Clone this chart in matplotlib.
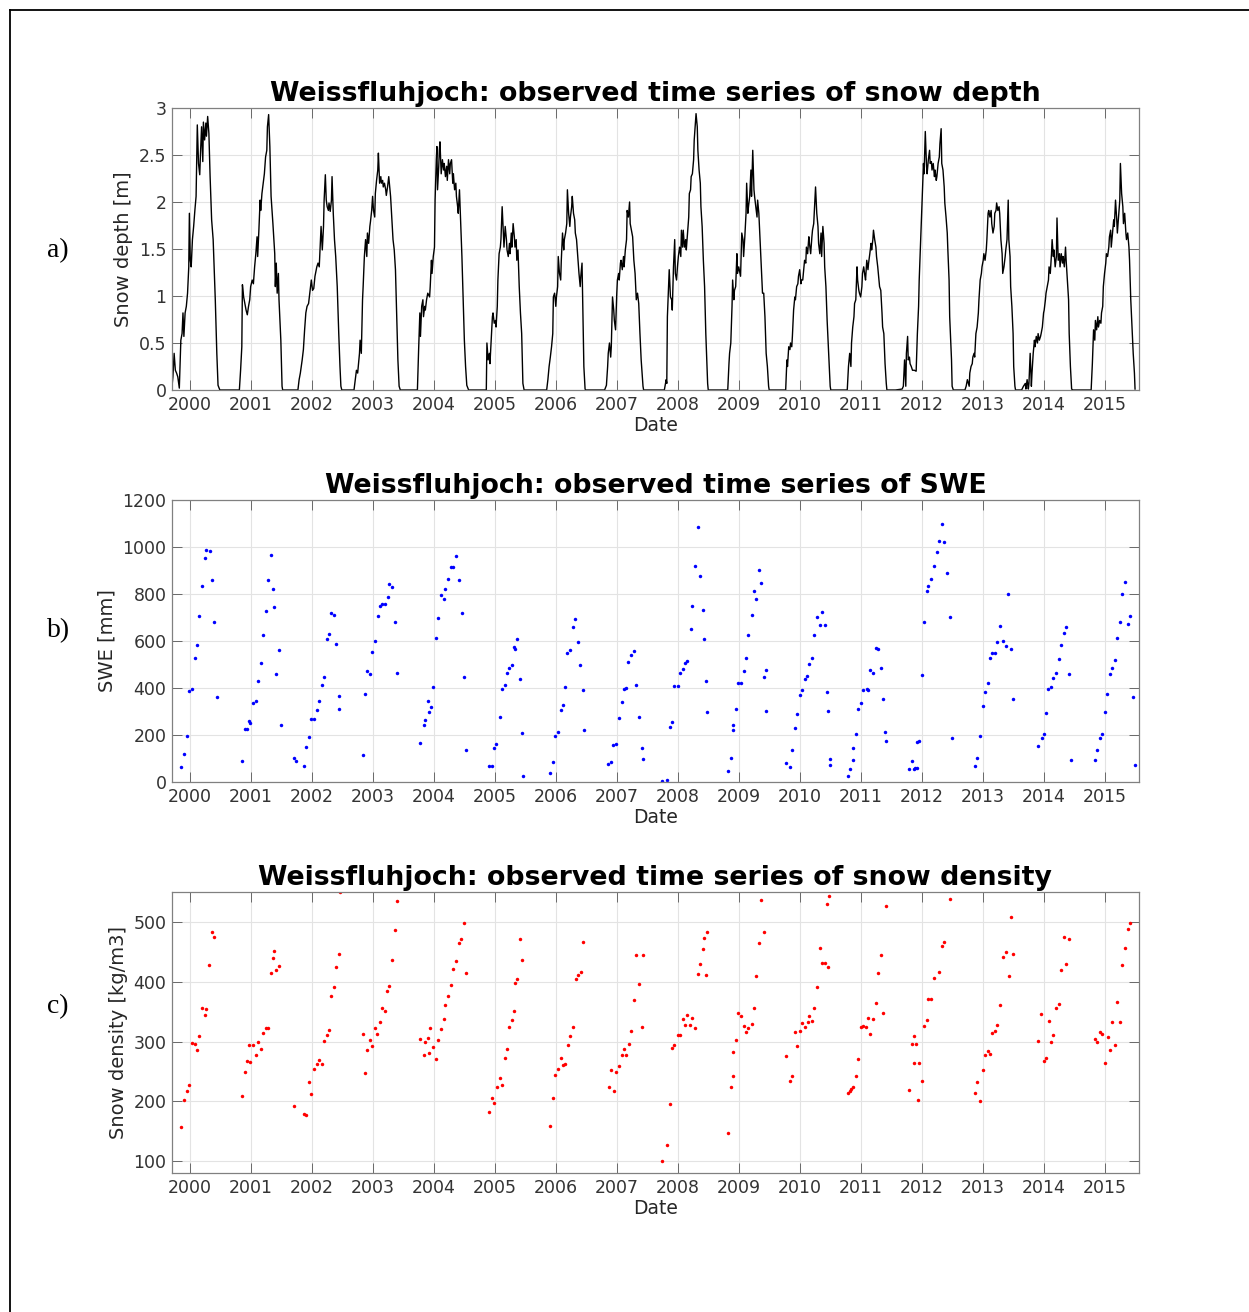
import matplotlib
matplotlib.use("Agg")
import matplotlib.pyplot as plt
from matplotlib.lines import Line2D

# ---- snow depth (decimal year, m), one line per winter ----
depth_year = [
    1999.705, 1999.72, 1999.74, 1999.76, 1999.78, 1999.80, 1999.825, 1999.85, 1999.87, 1999.885, 1999.90, 1999.92, 1999.94, 1999.96, 1999.98, 1999.99, 2000.005, 2000.02, 2000.04, 2000.06, 2000.08, 2000.10, 2000.12, 2000.14, 2000.16, 2000.17, 2000.19, 2000.21, 2000.22, 2000.24, 2000.26, 2000.27, 2000.29, 2000.31, 2000.33, 2000.355, 2000.38, 2000.39, 2000.415, 2000.44, 2000.46, 2000.49,
    2000.81, 2000.83, 2000.85, 2000.86, 2000.88, 2000.90, 2000.92, 2000.94, 2000.96, 2000.98, 2000.995, 2001.02, 2001.04, 2001.06, 2001.08, 2001.10, 2001.11, 2001.13, 2001.15, 2001.16, 2001.18, 2001.20, 2001.22, 2001.24, 2001.26, 2001.27, 2001.29, 2001.31, 2001.33, 2001.36, 2001.39, 2001.40, 2001.415, 2001.43, 2001.45, 2001.46, 2001.49, 2001.51, 2001.52,
    2001.77, 2001.79, 2001.81, 2001.84, 2001.86, 2001.88, 2001.90, 2001.92, 2001.945, 2001.97, 2001.99, 2002.01, 2002.03, 2002.05, 2002.08, 2002.10, 2002.12, 2002.14, 2002.15, 2002.17, 2002.19, 2002.20, 2002.22, 2002.235, 2002.25, 2002.27, 2002.28, 2002.30, 2002.32, 2002.33, 2002.35, 2002.37, 2002.39, 2002.415, 2002.44, 2002.46, 2002.475, 2002.49,
    2002.69, 2002.71, 2002.73, 2002.75, 2002.78, 2002.79, 2002.81, 2002.83, 2002.84, 2002.86, 2002.88, 2002.90, 2002.91, 2002.93, 2002.95, 2002.96, 2002.98, 2002.995, 2003.01, 2003.03, 2003.04, 2003.06, 2003.08, 2003.09, 2003.11, 2003.13, 2003.14, 2003.16, 2003.17, 2003.19, 2003.21, 2003.22, 2003.24, 2003.26, 2003.27, 2003.29, 2003.31, 2003.33, 2003.35, 2003.37, 2003.39, 2003.41, 2003.43, 2003.45,
    2003.73, 2003.75, 2003.77, 2003.78, 2003.80, 2003.82, 2003.83, 2003.85, 2003.86, 2003.88, 2003.90, 2003.93, 2003.94, 2003.96, 2003.97, 2003.99, 2004.01, 2004.02, 2004.04, 2004.05, 2004.06, 2004.08, 2004.09, 2004.10, 2004.12, 2004.14, 2004.16, 2004.17, 2004.19, 2004.21, 2004.22, 2004.24, 2004.26, 2004.27, 2004.29, 2004.31, 2004.32, 2004.34, 2004.36, 2004.37, 2004.39, 2004.40, 2004.42, 2004.44, 2004.46, 2004.48, 2004.50, 2004.52, 2004.54, 2004.57,
    2004.86, 2004.87, 2004.89, 2004.91, 2004.92, 2004.94, 2004.96, 2004.97, 2004.99, 2005.01, 2005.02, 2005.04, 2005.05, 2005.07, 2005.09, 2005.10, 2005.12, 2005.14, 2005.15, 2005.17, 2005.19, 2005.20, 2005.22, 2005.24, 2005.25, 2005.27, 2005.28, 2005.30, 2005.32, 2005.33, 2005.35, 2005.36, 2005.38, 2005.40, 2005.42, 2005.44, 2005.46, 2005.48,
    2005.85, 2005.87, 2005.89, 2005.91, 2005.93, 2005.95, 2005.96, 2005.98, 2006.00, 2006.01, 2006.03, 2006.04, 2006.06, 2006.08, 2006.09, 2006.11, 2006.13, 2006.14, 2006.16, 2006.18, 2006.19, 2006.21, 2006.23, 2006.24, 2006.26, 2006.27, 2006.29, 2006.31, 2006.32, 2006.34, 2006.36, 2006.38, 2006.40, 2006.41, 2006.43, 2006.44, 2006.46, 2006.48, 2006.49,
    2006.80, 2006.83, 2006.85, 2006.86, 2006.88, 2006.90, 2006.91, 2006.93, 2006.95, 2006.96, 2006.98, 2007.00, 2007.01, 2007.03, 2007.04, 2007.06, 2007.07, 2007.09, 2007.11, 2007.12, 2007.14, 2007.16, 2007.17, 2007.19, 2007.21, 2007.22, 2007.24, 2007.26, 2007.28, 2007.30, 2007.32, 2007.34, 2007.36, 2007.38, 2007.40, 2007.43, 2007.44,
    2007.78, 2007.80, 2007.81, 2007.82, 2007.83, 2007.86, 2007.88, 2007.90, 2007.91, 2007.93, 2007.95, 2007.96, 2007.98, 2007.995, 2008.01, 2008.03, 2008.05, 2008.06, 2008.08, 2008.09, 2008.11, 2008.13, 2008.14, 2008.16, 2008.18, 2008.19, 2008.21, 2008.22, 2008.24, 2008.26, 2008.27, 2008.29, 2008.30, 2008.32, 2008.33, 2008.35, 2008.37, 2008.38, 2008.40, 2008.42, 2008.44, 2008.46, 2008.49, 2008.50,
    2008.82, 2008.84, 2008.85, 2008.87, 2008.89, 2008.90, 2008.92, 2008.93, 2008.95, 2008.97, 2008.98, 2009.00, 2009.02, 2009.03, 2009.05, 2009.07, 2009.08, 2009.10, 2009.12, 2009.13, 2009.15, 2009.16, 2009.18, 2009.20, 2009.21, 2009.23, 2009.25, 2009.26, 2009.28, 2009.30, 2009.31, 2009.33, 2009.35, 2009.37, 2009.39, 2009.41, 2009.43, 2009.45, 2009.47, 2009.49, 2009.50,
    2009.77, 2009.79, 2009.80, 2009.82, 2009.84, 2009.85, 2009.87, 2009.88, 2009.90, 2009.92, 2009.93, 2009.95, 2009.97, 2009.98, 2010.00, 2010.02, 2010.03, 2010.05, 2010.07, 2010.08, 2010.10, 2010.11, 2010.13, 2010.15, 2010.16, 2010.18, 2010.20, 2010.21, 2010.23, 2010.25, 2010.26, 2010.28, 2010.30, 2010.31, 2010.33, 2010.35, 2010.36, 2010.38, 2010.40, 2010.41, 2010.43, 2010.45, 2010.48, 2010.50, 2010.51,
    2010.78, 2010.80, 2010.82, 2010.84, 2010.85, 2010.87, 2010.89, 2010.90, 2010.92, 2010.94, 2010.95, 2010.97, 2010.98, 2011.00, 2011.02, 2011.03, 2011.05, 2011.07, 2011.08, 2011.10, 2011.12, 2011.13, 2011.15, 2011.17, 2011.18, 2011.20, 2011.21, 2011.23, 2011.25, 2011.26, 2011.28, 2011.30, 2011.31, 2011.33, 2011.35, 2011.36, 2011.38, 2011.40, 2011.42, 2011.43,
    2011.57, 2011.68, 2011.70, 2011.72, 2011.74, 2011.75, 2011.77, 2011.78, 2011.80, 2011.81, 2011.83, 2011.85, 2011.88, 2011.91, 2011.93, 2011.95, 2011.96, 2011.98, 2012.00, 2012.01, 2012.03, 2012.04, 2012.06, 2012.08, 2012.09, 2012.11, 2012.13, 2012.14, 2012.16, 2012.17, 2012.19, 2012.21, 2012.22, 2012.24, 2012.25, 2012.27, 2012.29, 2012.30, 2012.32, 2012.33, 2012.35, 2012.37, 2012.38, 2012.40, 2012.42, 2012.43, 2012.45, 2012.46, 2012.49, 2012.50, 2012.52,
    2012.71, 2012.73, 2012.75, 2012.78, 2012.79, 2012.81, 2012.83, 2012.84, 2012.86, 2012.87, 2012.89, 2012.91, 2012.93, 2012.94, 2012.96, 2012.98, 2012.99, 2013.01, 2013.02, 2013.04, 2013.06, 2013.07, 2013.09, 2013.10, 2013.12, 2013.14, 2013.15, 2013.17, 2013.19, 2013.20, 2013.22, 2013.23, 2013.25, 2013.27, 2013.28, 2013.30, 2013.32, 2013.33, 2013.35, 2013.37, 2013.38, 2013.40, 2013.42, 2013.43, 2013.45, 2013.46, 2013.48, 2013.50, 2013.51, 2013.53, 2013.54,
    2013.64, 2013.67, 2013.70, 2013.71, 2013.73, 2013.75, 2013.76, 2013.78, 2013.80, 2013.81, 2013.83, 2013.85, 2013.86, 2013.88, 2013.90, 2013.91, 2013.93, 2013.95, 2013.96, 2013.98, 2014.00, 2014.01, 2014.03, 2014.04, 2014.06, 2014.08, 2014.09, 2014.11, 2014.13, 2014.14, 2014.16, 2014.17, 2014.19, 2014.21, 2014.22, 2014.24, 2014.26, 2014.27, 2014.29, 2014.31, 2014.32, 2014.34, 2014.36, 2014.37, 2014.39, 2014.41, 2014.42, 2014.44, 2014.46, 2014.48,
    2014.78, 2014.80, 2014.82, 2014.84, 2014.85, 2014.87, 2014.89, 2014.90, 2014.92, 2014.94, 2014.95, 2014.97, 2014.98, 2015.00, 2015.02, 2015.03, 2015.05, 2015.07, 2015.08, 2015.10, 2015.11, 2015.13, 2015.15, 2015.16, 2015.18, 2015.20, 2015.21, 2015.23, 2015.25, 2015.26, 2015.28, 2015.30, 2015.31, 2015.33, 2015.35, 2015.36, 2015.38, 2015.40, 2015.41, 2015.43, 2015.45, 2015.47, 2015.49, 2015.50,
]
depth_m = [
    0.04, 0.14, 0.39, 0.21, 0.18, 0.14, 0.02, 0.53, 0.60, 0.82, 0.57, 0.82, 0.89, 1.03, 1.31, 1.88, 1.38, 1.31, 1.60, 1.74, 1.91, 2.06, 2.82, 2.41, 2.29, 2.48, 2.80, 2.43, 2.85, 2.66, 2.84, 2.70, 2.91, 2.73, 2.27, 1.81, 1.60, 1.42, 0.96, 0.39, 0.05, 0.0,
    0.0, 0.21, 0.46, 1.12, 0.99, 0.92, 0.85, 0.80, 0.89, 0.96, 1.10, 1.17, 1.13, 1.31, 1.45, 1.63, 1.42, 1.70, 2.02, 1.91, 2.09, 2.20, 2.30, 2.48, 2.55, 2.80, 2.93, 2.59, 2.06, 1.77, 1.45, 1.10, 1.35, 1.03, 1.24, 0.96, 0.53, 0.04, 0.0,
    0.0, 0.11, 0.18, 0.32, 0.43, 0.64, 0.82, 0.89, 0.92, 1.06, 1.17, 1.06, 1.08, 1.21, 1.31, 1.35, 1.31, 1.60, 1.74, 1.49, 1.74, 2.02, 2.29, 2.02, 1.95, 1.91, 1.99, 1.90, 2.02, 2.27, 1.88, 1.60, 1.42, 1.10, 0.60, 0.25, 0.04, 0.0,
    0.0, 0.11, 0.21, 0.18, 0.39, 0.53, 0.39, 0.96, 1.10, 1.42, 1.60, 1.42, 1.67, 1.56, 1.74, 1.79, 1.91, 2.06, 1.91, 1.84, 2.09, 2.23, 2.34, 2.52, 2.20, 2.27, 2.20, 2.23, 2.16, 2.20, 2.13, 2.07, 2.16, 2.27, 2.20, 2.06, 1.84, 1.60, 1.49, 1.28, 0.82, 0.32, 0.04, 0.0,
    0.0, 0.43, 0.82, 0.57, 0.89, 0.96, 0.78, 0.89, 0.85, 0.96, 1.03, 0.99, 1.10, 1.38, 1.24, 1.42, 1.52, 2.02, 2.45, 2.59, 2.13, 2.38, 2.55, 2.64, 2.30, 2.45, 2.34, 2.41, 2.27, 2.38, 2.23, 2.45, 2.30, 2.41, 2.45, 2.20, 2.30, 2.13, 2.20, 2.06, 1.95, 1.88, 2.13, 1.77, 1.42, 0.99, 0.53, 0.25, 0.05, 0.0,
    0.0, 0.50, 0.32, 0.39, 0.28, 0.53, 0.78, 0.82, 0.71, 0.74, 0.67, 0.89, 1.17, 1.45, 1.52, 1.60, 1.95, 1.67, 1.52, 1.74, 1.60, 1.49, 1.42, 1.56, 1.45, 1.67, 1.52, 1.77, 1.63, 1.52, 1.60, 1.38, 1.49, 1.10, 0.82, 0.60, 0.07, 0.0,
    0.0, 0.11, 0.25, 0.35, 0.46, 0.60, 0.99, 1.03, 0.89, 0.99, 1.10, 1.42, 1.24, 1.17, 1.38, 1.67, 1.49, 1.60, 1.67, 1.77, 2.13, 1.88, 1.74, 1.84, 1.95, 2.06, 1.88, 1.81, 1.67, 1.60, 1.42, 1.24, 1.10, 1.21, 1.35, 0.96, 0.25, 0.01, 0.0,
    0.0, 0.05, 0.25, 0.39, 0.50, 0.35, 0.46, 0.99, 0.85, 0.74, 0.64, 1.03, 1.17, 1.24, 1.17, 1.35, 1.38, 1.28, 1.42, 1.31, 1.49, 1.60, 1.91, 1.84, 2.00, 1.77, 1.70, 1.63, 1.38, 1.24, 0.96, 1.03, 0.92, 0.60, 0.32, 0.04, 0.0,
    0.0, 0.07, 0.11, 0.07, 0.78, 1.28, 0.99, 0.96, 0.85, 1.31, 1.60, 1.24, 1.17, 1.31, 1.42, 1.52, 1.42, 1.70, 1.52, 1.70, 1.52, 1.60, 1.49, 1.67, 1.84, 2.09, 2.13, 2.27, 2.30, 2.45, 2.66, 2.84, 2.94, 2.80, 2.55, 2.34, 2.20, 1.95, 1.74, 1.38, 1.10, 0.60, 0.07, 0.0,
    0.0, 0.28, 0.39, 0.50, 0.89, 1.17, 0.96, 1.06, 1.10, 1.45, 1.24, 1.31, 1.24, 1.21, 1.67, 1.60, 1.42, 1.63, 1.88, 2.20, 1.88, 1.95, 2.06, 2.34, 2.06, 2.55, 2.13, 2.06, 1.95, 1.84, 2.02, 1.88, 1.60, 1.31, 1.03, 1.03, 0.78, 0.39, 0.25, 0.04, 0.0,
    0.0, 0.32, 0.25, 0.46, 0.43, 0.50, 0.46, 0.57, 0.85, 0.99, 0.96, 1.10, 1.13, 1.21, 1.28, 1.13, 1.17, 1.17, 1.31, 1.38, 1.35, 1.52, 1.45, 1.63, 1.56, 1.45, 1.63, 1.70, 1.77, 2.02, 2.16, 1.88, 1.74, 1.56, 1.45, 1.67, 1.42, 1.74, 1.56, 1.31, 1.10, 0.74, 0.32, 0.04, 0.0,
    0.0, 0.25, 0.39, 0.25, 0.50, 0.67, 0.78, 0.92, 0.96, 1.31, 1.17, 1.06, 1.03, 0.99, 1.10, 1.24, 1.31, 1.21, 1.17, 1.38, 1.28, 1.35, 1.45, 1.56, 1.49, 1.60, 1.70, 1.60, 1.52, 1.42, 1.31, 1.17, 1.10, 1.06, 0.82, 0.67, 0.60, 0.28, 0.07, 0.0,
    0.0, 0.01, 0.04, 0.32, 0.04, 0.39, 0.57, 0.32, 0.35, 0.28, 0.25, 0.21, 0.21, 0.20, 0.60, 0.89, 1.17, 1.52, 1.88, 2.02, 2.41, 2.30, 2.75, 2.38, 2.30, 2.45, 2.55, 2.41, 2.43, 2.34, 2.41, 2.27, 2.34, 2.23, 2.27, 2.41, 2.48, 2.62, 2.78, 2.41, 2.34, 2.16, 1.99, 1.84, 1.67, 1.49, 1.17, 0.78, 0.32, 0.04, 0.0,
    0.0, 0.04, 0.11, 0.04, 0.18, 0.25, 0.28, 0.35, 0.39, 0.35, 0.60, 0.67, 0.82, 0.96, 1.17, 1.24, 1.31, 1.38, 1.45, 1.38, 1.49, 1.60, 1.88, 1.91, 1.84, 1.91, 1.77, 1.67, 1.74, 1.88, 1.91, 1.99, 1.91, 1.95, 1.88, 1.60, 1.45, 1.24, 1.31, 1.42, 1.49, 1.60, 2.02, 1.60, 1.42, 1.10, 0.89, 0.60, 0.25, 0.04, 0.0,
    0.0, 0.04, 0.07, 0.01, 0.11, 0.01, 0.07, 0.39, 0.04, 0.18, 0.39, 0.53, 0.46, 0.57, 0.50, 0.60, 0.53, 0.57, 0.60, 0.67, 0.82, 0.85, 0.96, 1.03, 1.10, 1.17, 1.31, 1.24, 1.45, 1.60, 1.42, 1.49, 1.31, 1.42, 1.83, 1.38, 1.45, 1.31, 1.45, 1.35, 1.42, 1.31, 1.52, 1.38, 1.17, 0.96, 0.60, 0.25, 0.01, 0.0,
    0.0, 0.28, 0.64, 0.53, 0.74, 0.64, 0.78, 0.67, 0.74, 0.71, 0.82, 0.89, 1.10, 1.24, 1.35, 1.45, 1.42, 1.52, 1.63, 1.70, 1.52, 1.67, 1.81, 1.74, 2.02, 1.81, 1.67, 1.84, 2.02, 2.41, 2.09, 1.95, 1.77, 1.88, 1.67, 1.60, 1.67, 1.52, 1.38, 0.96, 0.67, 0.39, 0.18, 0.01,
]

# ---- SWE measurements (decimal year, mm) ----
swe_year = [
    1999.85, 1999.91, 1999.95, 1999.99, 2000.03, 2000.08, 2000.11, 2000.15, 2000.19, 2000.24, 2000.27, 2000.33, 2000.36, 2000.40, 2000.44,
    2000.86, 2000.91, 2000.94, 2000.96, 2000.99, 2001.03, 2001.08, 2001.11, 2001.16, 2001.20, 2001.24, 2001.28, 2001.33, 2001.36, 2001.38, 2001.41, 2001.46, 2001.50,
    2001.70, 2001.74, 2001.87, 2001.91, 2001.95, 2001.99, 2002.03, 2002.08, 2002.11, 2002.16, 2002.19, 2002.25, 2002.28, 2002.32, 2002.36, 2002.40, 2002.44, 2002.45,
    2002.83, 2002.87, 2002.91, 2002.95, 2002.99, 2003.04, 2003.08, 2003.12, 2003.15, 2003.20, 2003.24, 2003.27, 2003.32, 2003.36, 2003.40,
    2003.78, 2003.84, 2003.86, 2003.90, 2003.92, 2003.95, 2003.99, 2004.03, 2004.07, 2004.11, 2004.16, 2004.19, 2004.23, 2004.28, 2004.32, 2004.36, 2004.41, 2004.46, 2004.49, 2004.53,
    2004.90, 2004.95, 2004.99, 2005.02, 2005.08, 2005.12, 2005.16, 2005.20, 2005.24, 2005.28, 2005.31, 2005.33, 2005.37, 2005.41, 2005.45, 2005.47,
    2005.91, 2005.95, 2005.99, 2006.03, 2006.08, 2006.11, 2006.15, 2006.19, 2006.23, 2006.28, 2006.32, 2006.36, 2006.40, 2006.44, 2006.46,
    2006.86, 2006.91, 2006.94, 2006.99, 2007.03, 2007.08, 2007.12, 2007.15, 2007.19, 2007.23, 2007.28, 2007.32, 2007.37, 2007.41, 2007.43,
    2007.74, 2007.83, 2007.87, 2007.91, 2007.94, 2008.00, 2008.03, 2008.08, 2008.12, 2008.15, 2008.21, 2008.24, 2008.29, 2008.33, 2008.37, 2008.41, 2008.43, 2008.46, 2008.48,
    2008.83, 2008.87, 2008.90, 2008.91, 2008.95, 2008.99, 2009.03, 2009.09, 2009.12, 2009.16, 2009.21, 2009.25, 2009.28, 2009.33, 2009.37, 2009.41, 2009.44, 2009.45,
    2009.78, 2009.84, 2009.87, 2009.92, 2009.95, 2010.01, 2010.03, 2010.08, 2010.12, 2010.16, 2010.20, 2010.24, 2010.28, 2010.33, 2010.37, 2010.41, 2010.45, 2010.47, 2010.50, 2010.50,
    2010.80, 2010.83, 2010.87, 2010.88, 2010.92, 2010.96, 2011.00, 2011.04, 2011.10, 2011.12, 2011.16, 2011.20, 2011.25, 2011.29, 2011.33, 2011.37, 2011.40, 2011.41,
    2011.79, 2011.84, 2011.87, 2011.89, 2011.92, 2011.93, 2011.95, 2012.00, 2012.04, 2012.08, 2012.11, 2012.16, 2012.20, 2012.25, 2012.29, 2012.33, 2012.37, 2012.41, 2012.46, 2012.49,
    2012.87, 2012.91, 2012.95, 2013.00, 2013.04, 2013.09, 2013.12, 2013.16, 2013.20, 2013.24, 2013.29, 2013.33, 2013.38, 2013.42, 2013.46, 2013.50,
    2013.91, 2013.97, 2014.01, 2014.04, 2014.08, 2014.12, 2014.16, 2014.20, 2014.25, 2014.29, 2014.33, 2014.37, 2014.42, 2014.45,
    2014.84, 2014.88, 2014.92, 2014.96, 2015.01, 2015.04, 2015.09, 2015.12, 2015.17, 2015.20, 2015.25, 2015.29, 2015.34, 2015.39, 2015.41, 2015.46, 2015.50,
]
swe_mm = [
    65, 121, 197, 386, 396, 528, 584, 708, 833, 952, 986, 984, 861, 679, 360,
    89, 226, 224, 261, 251, 338, 345, 431, 508, 626, 729, 861, 965, 821, 745, 458, 560, 241,
    104, 89, 70, 150, 191, 267, 267, 305, 346, 411, 448, 609, 631, 721, 711, 586, 367, 309,
    113, 373, 471, 460, 555, 599, 708, 748, 756, 756, 789, 843, 828, 681, 462,
    165, 241, 264, 346, 298, 321, 404, 611, 699, 796, 777, 823, 865, 913, 913, 962, 861, 718, 448, 138,
    70, 70, 146, 162, 278, 397, 414, 465, 485, 499, 573, 567, 607, 437, 209, 27,
    40, 85, 197, 214, 305, 329, 406, 550, 560, 658, 694, 594, 496, 391, 221,
    77, 87, 159, 162, 271, 340, 396, 400, 512, 540, 557, 413, 278, 146, 98,
    4, 7, 233, 254, 407, 409, 465, 481, 505, 513, 651, 749, 921, 1087, 877, 732, 610, 428, 296,
    45, 102, 223, 244, 309, 421, 420, 474, 529, 626, 709, 811, 779, 901, 847, 445, 477, 304,
    79, 64, 138, 228, 288, 372, 390, 437, 450, 504, 529, 624, 704, 667, 723, 667, 383, 304, 99, 74,
    24, 54, 92, 143, 206, 309, 336, 393, 396, 391, 475, 465, 570, 565, 485, 355, 213, 173,
    57, 89, 57, 61, 58, 169, 174, 455, 681, 813, 833, 865, 918, 980, 1024, 1099, 1021, 891, 702, 189,
    70, 104, 196, 323, 382, 420, 526, 549, 550, 594, 662, 600, 579, 801, 567, 353,
    153, 189, 204, 295, 397, 403, 444, 465, 523, 584, 633, 658, 460, 94,
    95, 138, 186, 203, 298, 373, 460, 487, 519, 614, 679, 801, 852, 671, 706, 360, 71,
]

# ---- bulk snow density (decimal year, kg/m3) ----
rho_year = [
    1999.86, 1999.91, 1999.95, 1999.99, 2000.03, 2000.08, 2000.11, 2000.15, 2000.19, 2000.24, 2000.27, 2000.32, 2000.36, 2000.40,
    2000.86, 2000.91, 2000.94, 2000.96, 2000.99, 2001.03, 2001.08, 2001.11, 2001.16, 2001.20, 2001.24, 2001.28, 2001.33, 2001.36, 2001.38, 2001.41, 2001.46,
    2001.70, 2001.87, 2001.90, 2001.95, 2001.99, 2002.03, 2002.08, 2002.11, 2002.16, 2002.19, 2002.24, 2002.28, 2002.32, 2002.36, 2002.40, 2002.44, 2002.46,
    2002.83, 2002.87, 2002.91, 2002.95, 2002.99, 2003.04, 2003.07, 2003.11, 2003.15, 2003.20, 2003.23, 2003.27, 2003.32, 2003.36, 2003.40,
    2003.78, 2003.84, 2003.86, 2003.90, 2003.92, 2003.94, 2003.99, 2004.03, 2004.07, 2004.11, 2004.16, 2004.19, 2004.23, 2004.28, 2004.32, 2004.36, 2004.41, 2004.45, 2004.49, 2004.53,
    2004.91, 2004.95, 2004.99, 2005.03, 2005.08, 2005.12, 2005.16, 2005.20, 2005.24, 2005.28, 2005.31, 2005.33, 2005.37, 2005.41, 2005.45,
    2005.91, 2005.96, 2005.99, 2006.03, 2006.08, 2006.12, 2006.15, 2006.20, 2006.23, 2006.28, 2006.33, 2006.37, 2006.41, 2006.45,
    2006.87, 2006.91, 2006.95, 2006.99, 2007.03, 2007.08, 2007.12, 2007.15, 2007.20, 2007.24, 2007.28, 2007.32, 2007.37, 2007.41, 2007.43,
    2007.74, 2007.83, 2007.87, 2007.91, 2007.94, 2008.00, 2008.03, 2008.08, 2008.12, 2008.15, 2008.20, 2008.24, 2008.29, 2008.33, 2008.37, 2008.41, 2008.43, 2008.46, 2008.48,
    2008.83, 2008.87, 2008.90, 2008.91, 2008.95, 2008.99, 2009.03, 2009.09, 2009.12, 2009.16, 2009.21, 2009.25, 2009.28, 2009.33, 2009.37, 2009.41,
    2009.78, 2009.84, 2009.88, 2009.92, 2009.96, 2010.01, 2010.04, 2010.08, 2010.13, 2010.16, 2010.20, 2010.24, 2010.29, 2010.33, 2010.37, 2010.41, 2010.45, 2010.47, 2010.48,
    2010.80, 2010.82, 2010.84, 2010.88, 2010.92, 2010.96, 2011.00, 2011.04, 2011.08, 2011.12, 2011.16, 2011.20, 2011.25, 2011.29, 2011.34, 2011.37, 2011.41,
    2011.79, 2011.84, 2011.87, 2011.88, 2011.91, 2011.94, 2011.96, 2012.00, 2012.04, 2012.08, 2012.11, 2012.16, 2012.20, 2012.29, 2012.33, 2012.37, 2012.46,
    2012.87, 2012.91, 2012.95, 2013.00, 2013.04, 2013.09, 2013.12, 2013.16, 2013.20, 2013.24, 2013.29, 2013.33, 2013.38, 2013.43, 2013.46, 2013.50,
    2013.91, 2013.96, 2014.01, 2014.04, 2014.09, 2014.12, 2014.16, 2014.21, 2014.25, 2014.29, 2014.33, 2014.37, 2014.42,
    2014.84, 2014.88, 2014.92, 2014.96, 2015.00, 2015.05, 2015.09, 2015.13, 2015.17, 2015.21, 2015.25, 2015.29, 2015.34, 2015.39, 2015.42,
]
rho_kgm3 = [
    158, 203, 217, 227, 298, 296, 286, 309, 357, 344, 354, 428, 483, 474,
    209, 249, 268, 294, 266, 295, 277, 299, 288, 314, 323, 323, 414, 439, 451, 419, 427,
    192, 179, 177, 232, 213, 254, 263, 269, 263, 301, 311, 319, 377, 392, 424, 447, 550,
    312, 247, 286, 303, 293, 322, 312, 332, 357, 351, 384, 393, 436, 486, 535,
    304, 277, 299, 306, 281, 323, 291, 271, 303, 321, 337, 361, 376, 394, 421, 434, 464, 471, 498, 415,
    183, 206, 198, 225, 239, 227, 272, 287, 324, 336, 352, 398, 404, 471, 437,
    159, 205, 245, 254, 272, 261, 262, 294, 310, 325, 405, 412, 416, 466,
    224, 253, 217, 250, 259, 277, 287, 278, 296, 318, 369, 444, 396, 325, 445,
    100, 128, 195, 289, 295, 311, 311, 337, 327, 344, 327, 340, 323, 413, 429, 454, 473, 412, 484,
    147, 224, 242, 282, 303, 347, 343, 326, 316, 323, 329, 357, 409, 464, 536, 484,
    276, 234, 242, 316, 292, 317, 331, 324, 332, 342, 334, 356, 391, 456, 432, 432, 530, 424, 544,
    214, 217, 221, 225, 242, 271, 325, 326, 324, 340, 313, 337, 365, 414, 445, 348, 526,
    219, 296, 264, 310, 296, 203, 264, 234, 326, 336, 371, 371, 406, 416, 459, 466, 539,
    214, 232, 201, 252, 278, 284, 279, 314, 317, 327, 361, 442, 450, 409, 508, 447,
    301, 346, 268, 272, 334, 299, 311, 356, 363, 419, 475, 429, 472,
    304, 299, 316, 312, 264, 308, 286, 332, 295, 366, 332, 428, 456, 489, 498,
]

years = list(range(2000, 2016))
x_range = (1999.705, 2015.565)

plt.rcParams["font.family"] = "DejaVu Sans"

fig = plt.figure(figsize=(12.49, 13.12), dpi=100)

# frame around the whole figure
fig.add_artist(Line2D([10 / 1249, 10 / 1249], [0, 1 - 10 / 1312], transform=fig.transFigure, color="black", lw=1.3))
fig.add_artist(Line2D([10 / 1249, 1], [1 - 10 / 1312, 1 - 10 / 1312], transform=fig.transFigure, color="black", lw=1.3))

left = 172 / 1249
width = 967 / 1249
height = 282 / 1312
bottoms = [1 - 390 / 1312, 1 - 782 / 1312, 1 - 1173 / 1312]

ax_a = fig.add_axes([left, bottoms[0], width, height])
ax_b = fig.add_axes([left, bottoms[1], width, height])
ax_c = fig.add_axes([left, bottoms[2], width, 281 / 1312])

ax_a.plot(depth_year, depth_m, color="black", lw=1.0)
ax_a.set_ylim(0, 3)
ax_a.set_yticks([0, 0.5, 1, 1.5, 2, 2.5, 3])
ax_a.set_yticklabels(["0", "0.5", "1", "1.5", "2", "2.5", "3"])
ax_a.set_ylabel("Snow depth [m]")
ax_a.set_title("Weissfluhjoch: observed time series of snow depth")

ax_b.plot(swe_year, swe_mm, linestyle="none", marker="o", ms=2.5, mew=0, color="#0000ff")
ax_b.set_ylim(0, 1200)
ax_b.set_yticks(range(0, 1201, 200))
ax_b.set_ylabel("SWE [mm]")
ax_b.set_title("Weissfluhjoch: observed time series of SWE")

ax_c.plot(rho_year, rho_kgm3, linestyle="none", marker="o", ms=2.5, mew=0, color="#ff0000")
ax_c.set_ylim(80.5, 550)
ax_c.set_yticks(range(100, 501, 100))
ax_c.set_ylabel("Snow density [kg/m3]")
ax_c.set_title("Weissfluhjoch: observed time series of snow density")

for ax in (ax_a, ax_b, ax_c):
    ax.set_xlim(*x_range)
    ax.set_xticks(years)
    ax.set_xticklabels([str(y) for y in years])
    ax.set_xlabel("Date", fontsize=13.5, color="#262626", labelpad=2)
    ax.yaxis.label.set_fontsize(14)
    ax.yaxis.label.set_color("#262626")
    ax.set_title(ax.get_title(), fontsize=19.3, fontweight="bold", color="black", pad=5)
    ax.grid(True, color="#e3e3e3", lw=0.8)
    ax.set_axisbelow(True)
    ax.tick_params(direction="in", length=7, width=0.6, top=True, right=True,
                   labelsize=12.5, labelcolor="#333333", color="#555555", pad=4)
    for s in ax.spines.values():
        s.set_color("#808080")
        s.set_linewidth(0.9)

# panel letters
for lab, ypix in (("a)", 251), ("b)", 631), ("c)", 1007)):
    fig.text(47 / 1249, 1 - ypix / 1312, lab, fontsize=20, family="Liberation Serif",
             ha="left", va="center")

fig.savefig("out.png", dpi=100)
